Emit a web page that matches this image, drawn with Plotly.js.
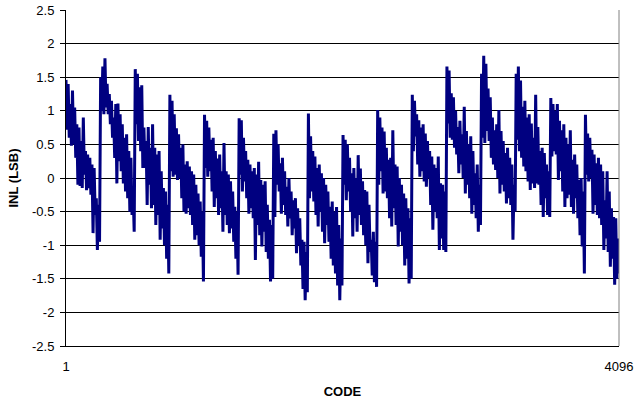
<!DOCTYPE html>
<html>
<head>
<meta charset="utf-8">
<script src="https://cdn.plot.ly/plotly-3.0.1.min.js"></script>
<style>
  html, body { margin: 0; padding: 0; background: #fff; }
  #chart { width: 634px; height: 402px; }
</style>
</head>
<body>
<div id="chart"></div>
<script>
// INL (LSB) per 256-code segment, given as alternating upper/lower excursions
const seg01 = [1.46,0.72, 1.40,0.60, 1.10,0.48, 1.30,0.50, 1.05,0.30, 0.80,-0.10, 0.75,-0.12, 0.55,-0.15, 0.90,0.05, 0.40,-0.18, 0.35,-0.15, 0.30,-0.25, 0.20,-0.82, 0.15,-0.55, -0.30,-1.07, -0.40,-0.95];
const seg02 = [1.50,1.00, 1.66,0.95, 1.78,1.05, 1.40,0.95, 1.25,0.80, 1.15,0.60, 0.90,0.30, 1.10,-0.08, 1.11,0.25, 0.95,0.10, 0.80,-0.08, 0.60,-0.20, 0.65,-0.30, 0.40,-0.50, 0.30,-0.55, -0.20,-0.80];
const seg03 = [1.62,0.80, 1.55,0.55, 1.35,0.40, 1.38,0.15, 0.75,0.15, 0.55,-0.40, 0.76,-0.10, 0.45,-0.45, 0.80,-0.40, 0.45,-0.70, 0.35,-0.55, 0.40,-0.92, 0.10,-0.75, -0.15,-1.00, -0.20,-1.20, -0.40,-1.42];
const seg04 = [1.24,0.10, 1.15,0.02, 0.95,0.05, 0.74,-0.03, 0.65,0.00, 0.45,-0.30, 0.50,-0.50, 0.20,-0.53, 0.25,-0.45, 0.17,-0.55, 0.10,-0.70, 0.05,-0.92, -0.10,-0.85, -0.23,-1.00, -0.35,-1.17, -0.50,-1.54];
const seg05 = [0.94,0.15, 0.85,0.02, 0.75,0.10, 0.57,-0.20, 0.60,-0.43, 0.40,-0.30, 0.29,-0.55, 0.35,-0.45, 0.10,-0.80, 0.52,-0.55, 0.10,-0.70, 0.05,-0.82, -0.05,-0.75, -0.20,-0.95, -0.43,-1.20, -0.50,-1.44];
const seg06 = [0.89,0.05, 0.86,-0.20, 0.60,-0.05, 0.40,-0.30, 0.27,-0.53, 0.20,-0.45, 0.10,-0.60, 0.15,-1.22, 0.05,-0.70, 0.24,-0.85, -0.03,-1.02, -0.10,-0.80, -0.05,-1.10, -0.40,-1.20, -0.62,-1.54, -0.70,-1.50];
const seg07 = [0.66,-0.58, 0.71,-0.10, 0.50,-0.20, 0.22,-0.53, 0.30,-0.40, 0.10,-0.55, -0.13,-0.72, 0.00,-0.60, -0.20,-0.85, -0.33,-0.75, -0.30,-1.12, -0.45,-1.00, -0.60,-1.30, -0.92,-1.65, -0.95,-1.82, -1.10,-1.70];
const seg08 = [0.96,-0.30, 0.62,-0.20, 0.40,-0.35, 0.32,-0.55, 0.15,-0.72, 0.20,-0.50, 0.07,-0.80, 0.00,-0.97, -0.10,-0.70, -0.20,-0.95, -0.43,-1.20, -0.35,-1.30, -0.50,-1.42, -0.43,-1.60, -0.70,-1.82, -0.90,-1.60];
const seg09 = [0.64,-0.10, 0.57,-0.33, 0.50,-0.20, 0.30,-0.50, 0.07,-0.87, 0.15,-0.60, 0.00,-0.80, 0.34,-0.55, 0.14,-0.70, -0.05,-0.85, -0.18,-1.00, -0.20,-1.27, -0.40,-1.10, -0.92,-1.45, -0.80,-1.55, -0.95,-1.62];
const seg10 = [1.01,-0.10, 0.90,0.10, 0.75,-0.23, 0.69,-0.20, 0.45,-0.30, 0.27,-0.60, 0.30,-0.72, 0.71,-0.45, 0.20,-0.70, 0.17,-1.02, 0.00,-0.80, -0.10,-1.00, -0.23,-1.30, -0.30,-1.20, -0.45,-1.57, -0.60,-1.50];
const seg11 = [1.24,0.40, 1.15,0.62, 0.95,0.20, 0.86,0.02, 0.75,0.10, 0.80,-0.05, 0.66,-0.13, 0.55,0.00, 0.40,-0.40, 0.32,-0.77, 0.20,-0.50, 0.15,-0.60, 0.32,-1.07, -0.08,-0.90, -0.10,-1.07, -0.20,-1.10];
const seg12 = [1.66,0.81, 1.60,0.60, 1.26,0.57, 1.20,0.45, 1.00,0.35, 0.76,0.07, 0.85,0.20, 0.65,0.00, 1.06,-0.23, 0.70,-0.10, 0.50,-0.30, 0.62,-0.53, 0.40,-0.40, 0.07,-0.60, 0.20,-0.80, -0.10,-0.70];
const seg13 = [1.55,0.60, 1.82,0.52, 1.70,0.70, 1.33,0.55, 1.20,0.30, 0.90,0.20, 0.71,0.12, 0.80,0.00, 1.01,-0.23, 0.70,-0.10, 0.55,-0.20, 0.37,-0.38, 0.45,-0.30, 0.30,-0.40, 0.20,-0.92, -0.10,-0.50];
const seg14 = [1.55,0.57, 1.66,0.40, 1.45,0.30, 1.06,0.17, 1.15,0.10, 0.90,-0.05, 0.95,-0.18, 0.81,-0.08, 0.60,-0.15, 1.24,-0.08, 0.76,-0.10, 0.40,-0.40, 0.45,-0.58, 0.37,-0.30, 0.20,-0.55, 0.10,-0.58];
const seg15 = [1.19,0.32, 1.10,0.40, 1.00,0.35, 1.10,-0.03, 0.85,0.10, 0.71,-0.20, 0.80,-0.43, 0.60,-0.30, 0.50,-0.25, 0.71,-0.43, 0.27,-0.53, 0.35,-0.30, 0.20,-0.60, -0.03,-0.85, 0.00,-1.02, -0.20,-1.42];
const seg16 = [0.94,0.05, 0.66,-0.05, 0.60,0.00, 0.42,-0.53, 0.35,-0.40, 0.22,-0.55, 0.30,-0.60, 0.20,-0.70, 0.10,-1.07, -0.33,-0.90, 0.10,-1.10, -0.20,-1.32, -0.45,-1.20, -0.58,-1.59, -0.60,-1.50, -0.90,-1.42];

const yTickVals   = [2.5, 2, 1.5, 1, 0.5, 0, -0.5, -1, -1.5, -2, -2.5];
const yTickLabels = ['2.5', '2', '1.5', '1', '0.5', '0', '-0.5', '-1', '-1.5', '-2', '-2.5'];
const xTickVals   = [1, 4096];
const xTickLabels = ['1', '4096'];

const inl = [].concat(seg01, seg02, seg03, seg04, seg05, seg06, seg07, seg08,
                      seg09, seg10, seg11, seg12, seg13, seg14, seg15, seg16);
// samples sit at evenly spaced codes across 1..4096
const codeStep = (4096 - 1) / (inl.length - 1);
const codes = inl.map((_, i) => 1 + i * codeStep);

const FONT = '"Liberation Sans", Arial, sans-serif';

const trace = {
  x: codes,
  y: inl,
  type: 'scatter',
  mode: 'lines',
  line: { color: '#000080', width: 3 },
  hoverinfo: 'skip'
};

const layout = {
  width: 634,
  height: 402,
  margin: { l: 66, r: 15, t: 10, b: 56 },
  paper_bgcolor: '#ffffff',
  plot_bgcolor: '#ffffff',
  showlegend: false,
  font: { family: FONT, size: 13, color: '#000' },
  xaxis: {
    range: [1, 4096],
    tickmode: 'array',
    tickvals: xTickVals,
    ticktext: xTickLabels,
    ticks: '',
    ticklabelstandoff: 8,
    showgrid: false,
    zeroline: false,
    showline: true,
    linecolor: '#000',
    linewidth: 1,
    tickfont: { family: FONT, size: 13, color: '#000' },
    title: { text: 'CODE', font: { family: FONT, size: 13, color: '#000', weight: 'bold' }, standoff: 14 }
  },
  yaxis: {
    range: [-2.5, 2.5],
    tickmode: 'array',
    tickvals: yTickVals,
    ticktext: yTickLabels,
    ticks: 'outside',
    ticklen: 5,
    tickwidth: 1,
    tickcolor: '#000',
    ticklabelstandoff: 3,
    showgrid: true,
    gridcolor: '#000',
    gridwidth: 1,
    zeroline: false,
    showline: true,
    linecolor: '#000',
    linewidth: 1,
    tickfont: { family: FONT, size: 13, color: '#000' },
    title: { text: 'INL (LSB)', font: { family: FONT, size: 13, color: '#000', weight: 'bold' }, standoff: 10 }
  },
  shapes: [
    { type: 'line', xref: 'paper', yref: 'paper', x0: 1, x1: 1, y0: 0, y1: 1,
      line: { color: '#808080', width: 1 } }
  ]
};

Plotly.newPlot('chart', [trace], layout, { staticPlot: true, displayModeBar: false });
</script>
</body>
</html>
